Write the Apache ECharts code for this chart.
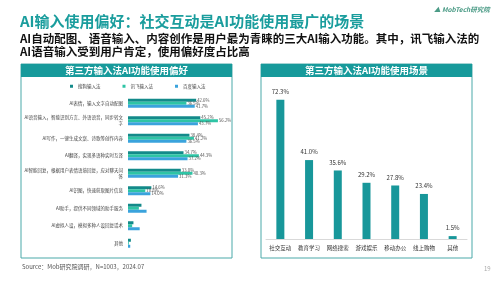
<!DOCTYPE html>
<html><head><meta charset="utf-8">
<script src="https://cdn.jsdelivr.net/npm/echarts@6/dist/echarts.min.js"></script>
<style>html,body{margin:0;padding:0;background:#fff}#c{width:499px;height:281px}</style>
</head><body><div id="c"></div>
<script>
// ---- data ----
const prefCategories = [
  'AI表情，输入文字自动配图',
  'AI语音输入，智能识别方言、外语语音，同步转文字',
  'AI写作，一键生成文案、诗歌等创作内容',
  'AI翻译，实现多语种实时互译',
  'AI智能回复，根据用户表情语境回复，应对聊天问答',
  'AI识图，快速获取图片信息',
  'AI助手，提供不同领域的助手服务',
  'AI虚拟人设，模拟多种人设回复话术',
  '其他'
];
const seriesNames = ['搜狗输入法', '讯飞输入法', '百度输入法'];
const sogouValues  = [42.6, 45.2, 38.4, 34.7, 33.0, 14.6, 8.4, 3.4, 1.8];
const xunfeiValues = [36.5, 56.2, 41.2, 44.3, 40.3, 10.8, 6.8, 2.6, 0.5];
const baiduValues  = [41.7, 43.7, 36.5, 37.2, 31.3, 14.0, 11.6, 7.3, 1.4];

const sceneCategories = ['社交互动', '教育学习', '网络搜索', '游戏娱乐', '移动办公', '线上购物', '其他'];
const sceneValues = [72.3, 41.0, 35.6, 29.2, 27.8, 23.4, 1.5];

// ---- chart ----
const FONT = '"Noto Sans CJK SC", "Noto Sans", sans-serif';
const TEAL = '#179a9b';
const chart = echarts.init(document.getElementById('c'), null, {renderer: 'canvas'});

const prefLabel = {
  show: true, position: 'right', distance: 1, fontSize: 4.3, color: '#555', fontFamily: FONT,
  formatter: p => (p.dataIndex < 6 ? p.value.toFixed(1) + '%' : '')
};
const prefColors = ['#138a8a', '#2ec4a5', '#3aa3dc'];
const prefData = [sogouValues, xunfeiValues, baiduValues];

chart.setOption({
  animation: false,
  textStyle: {fontFamily: FONT},
  legend: {
    data: seriesNames, left: 70, top: 84, itemWidth: 3, itemHeight: 3, itemGap: 22,
    icon: 'rect', textStyle: {fontSize: 4.5, color: '#444', fontFamily: FONT}, padding: 0
  },
  grid: [
    {left: 128, width: 96, top: 94.5, height: 157.5},
    {left: 266, right: 32, top: 85, bottom: 42}
  ],
  xAxis: [
    {gridIndex: 0, type: 'value', min: 0, max: 60, show: false},
    {gridIndex: 1, type: 'category', data: sceneCategories,
     axisLine: {lineStyle: {color: '#d9d9d9'}}, axisTick: {show: false},
     axisLabel: {fontSize: 5.5, color: '#333', margin: 6, fontFamily: FONT}}
  ],
  yAxis: [
    {gridIndex: 0, type: 'category', data: prefCategories, inverse: true,
     axisLine: {show: false}, axisTick: {show: false},
     axisLabel: {fontSize: 4.5, color: '#444', margin: 5, width: 100, overflow: 'break',
                 lineHeight: 6, align: 'right', fontFamily: FONT}},
    {gridIndex: 1, type: 'value', min: 0, max: 80, show: false}
  ],
  series: prefData.map((d, i) => ({
    name: seriesNames[i], type: 'bar', xAxisIndex: 0, yAxisIndex: 0, data: d,
    barWidth: 3, barGap: '0%', itemStyle: {color: prefColors[i]}, label: prefLabel
  })).concat([{
    type: 'bar', xAxisIndex: 1, yAxisIndex: 1, data: sceneValues, barWidth: 8,
    itemStyle: {color: '#18979a'},
    label: {show: true, position: 'top', distance: 5, fontSize: 6, color: '#333',
            formatter: p => p.value.toFixed(1) + '%', fontFamily: FONT}
  }]),
  graphic: [
    {type: 'text', left: 434, top: 6, style: {text: '▲ MobTech研究院', fontSize: 6.5, fontStyle: 'italic', fontWeight: 'bold', fill: '#4b9b86', fontFamily: FONT}},
    {type: 'text', left: 20, top: 14, style: {text: 'AI输入使用偏好：社交互动是AI功能使用最广的场景', fontSize: 15, fontWeight: 'bold', fill: '#1a9d9d', fontFamily: FONT}},
    {type: 'text', left: 20, top: 33, style: {text: 'AI自动配图、语音输入、内容创作是用户最为青睐的三大AI输入功能。其中，讯飞输入法的', fontSize: 11.5, fontWeight: 'bold', fill: '#111', fontFamily: FONT}},
    {type: 'text', left: 20, top: 46, style: {text: 'AI语音输入受到用户肯定，使用偏好度占比高', fontSize: 11.5, fontWeight: 'bold', fill: '#111', fontFamily: FONT}},
    {type: 'rect', shape: {x: 21, y: 64, width: 211, height: 194}, style: {fill: 'none', stroke: '#4aa9a9', lineWidth: 1}},
    {type: 'rect', shape: {x: 21, y: 64, width: 211, height: 13}, style: {fill: TEAL}},
    {type: 'text', x: 126.5, y: 70.5, style: {text: '第三方输入法AI功能使用偏好', fontSize: 9.5, fontWeight: 'bold', fill: '#fff', align: 'center', verticalAlign: 'middle', fontFamily: FONT}},
    {type: 'rect', shape: {x: 261, y: 64, width: 211, height: 194}, style: {fill: 'none', stroke: '#4aa9a9', lineWidth: 1}},
    {type: 'rect', shape: {x: 261, y: 64, width: 211, height: 13}, style: {fill: TEAL}},
    {type: 'text', x: 366.5, y: 70.5, style: {text: '第三方输入法AI功能使用场景', fontSize: 9.5, fontWeight: 'bold', fill: '#fff', align: 'center', verticalAlign: 'middle', fontFamily: FONT}},
    {type: 'text', left: 22, top: 264, style: {text: 'Source：Mob研究院调研，N=1003，2024.07', fontSize: 6, fill: '#555', fontFamily: FONT}},
    {type: 'text', left: 484, top: 266, style: {text: '19', fontSize: 6, fill: '#aaa', fontFamily: FONT}}
  ]
});
</script></body></html>
